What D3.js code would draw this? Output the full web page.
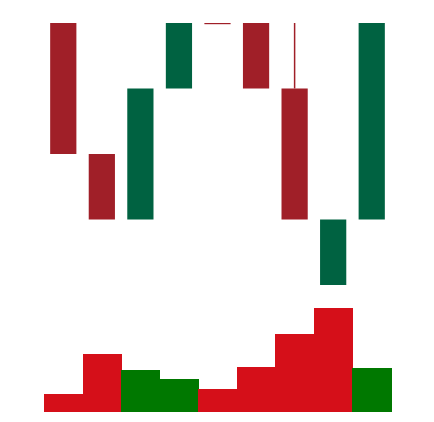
<!DOCTYPE html>
<html><head><meta charset="utf-8">
<script src="https://cdn.jsdelivr.net/npm/d3@7"></script>
<style>html,body{margin:0;padding:0;background:#fff;}svg{display:block;}</style>
</head><body>
<script>
const days = ["D1","D2","D3","D4","D5","D6","D7","D8","D9"];
const opens  = [5, 3, 2, 4, 5, 5, 4, 1, 2];
const closes = [3, 2, 4, 5, 5, 4, 2, 2, 5];
const highs  = [5, 3, 4, 5, 5, 5, 5, 2, 5];
const lows   = [3, 2, 2, 4, 5, 4, 2, 1, 2];
const volumes = [18, 58, 42, 33, 23, 45, 78, 104, 44];
const volUp   = [false, false, true, true, false, false, false, false, true];

const W = 434, H = 422;
const svg = d3.select("body").append("svg").attr("width", W).attr("height", H);

const x = d3.scaleBand().domain(days).range([44, 391]).padding(0);
const y = d3.scaleLinear().domain([1, 5]).range([285, 23]);
const yv = d3.scaleLinear().domain([0, 104]).range([412, 308]);

const candleRed = "#a01f28", candleGreen = "#006241";
const volRed = "#d50f19", volGreen = "#007800";

const data = days.map((d, i) => ({d, o: opens[i], c: closes[i], h: highs[i], l: lows[i], v: volumes[i], up: volUp[i]}));

// volume bars
svg.append("g").attr("shape-rendering", "crispEdges").selectAll("rect").data(data).join("rect")
  .attr("x", d => x(d.d))
  .attr("width", x.bandwidth() + 0.5)
  .attr("y", d => yv(d.v))
  .attr("height", d => yv(0) - yv(d.v))
  .attr("fill", d => d.up ? volGreen : volRed);

const cw = x.bandwidth() * 0.68;
const g = svg.append("g");
const col = d => d.c > d.o ? candleGreen : candleRed;
const cx = d => x(d.d) + x.bandwidth() / 2;
// upper wicks
g.selectAll("line.wu").data(data.filter(d => d.h > Math.max(d.o, d.c))).join("line")
  .attr("class", "wu")
  .attr("x1", cx).attr("x2", cx)
  .attr("y1", d => y(d.h))
  .attr("y2", d => y(Math.max(d.o, d.c)))
  .attr("stroke", col).attr("stroke-width", 1.5);
// lower wicks
g.selectAll("line.wl").data(data.filter(d => d.l < Math.min(d.o, d.c))).join("line")
  .attr("class", "wl")
  .attr("x1", cx).attr("x2", cx)
  .attr("y1", d => y(Math.min(d.o, d.c)))
  .attr("y2", d => y(d.l))
  .attr("stroke", col).attr("stroke-width", 1.5);
// bodies
g.selectAll("rect.body").data(data).join("rect")
  .attr("class", "body")
  .attr("x", d => x(d.d) + (x.bandwidth() - cw) / 2)
  .attr("width", cw)
  .attr("y", d => y(Math.max(d.o, d.c)))
  .attr("height", d => Math.max(1.2, Math.abs(y(d.o) - y(d.c))))
  .attr("fill", col);
</script>
</body></html>
